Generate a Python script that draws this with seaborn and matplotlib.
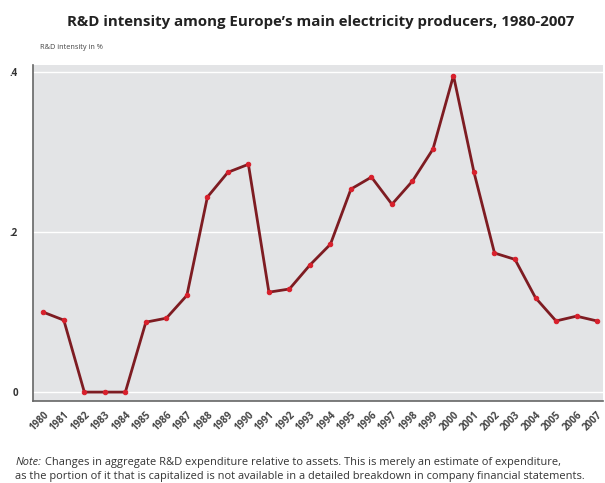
import matplotlib
matplotlib.use('Agg')
import pandas as pd
import seaborn as sns
import matplotlib.pyplot as plt

years = list(range(1980, 2008))
intensity = [0.100, 0.090, 0.0, 0.0, 0.0, 0.0875, 0.0925, 0.121, 0.244, 0.275,
             0.285, 0.125, 0.129, 0.159, 0.185, 0.254, 0.269, 0.235, 0.264, 0.304,
             0.396, 0.275, 0.174, 0.166, 0.118, 0.089, 0.095, 0.089]
yticks = [0, 0.2, 0.4]
ytick_labels = ['0', '.2', '.4']

df = pd.DataFrame({'year': years, 'intensity': intensity})

sns.set_style('white')
plt.rcParams['font.family'] = ['Open Sans', 'DejaVu Sans']

fig = plt.figure(figsize=(6.05, 4.83), dpi=100)
ax = fig.add_axes([0.055, 0.170, 0.942, 0.695])
ax.set_facecolor('#e3e4e6')

sns.lineplot(data=df, x='year', y='intensity', ax=ax, color='#7e1c22', linewidth=2.0,
             marker='o', markersize=3.2, markerfacecolor='#d8202c', markeredgecolor='#d8202c',
             zorder=3)

ax.set_xlim(1980 - 0.49, 2007 + 0.3)
ax.set_ylim(-0.011, 0.409)
ax.set_yticks(yticks)
ax.set_yticklabels(ytick_labels, fontsize=7, fontweight='bold', color='#333333')
ax.set_xticks(years)
ax.set_xticklabels([str(y) for y in years], rotation=45, ha='right', rotation_mode='anchor',
                   fontsize=7, fontweight='bold', color='#444444')
ax.grid(axis='y', color='white', linewidth=1.0, zorder=0)
ax.tick_params(axis='both', direction='out', length=3, width=0.7, color='#999999', pad=3)
ax.tick_params(axis='y', pad=8)
ax.set_xlabel('')
ax.set_ylabel('')

for side in ['top', 'right']:
    ax.spines[side].set_visible(False)
ax.spines['left'].set_color('#666666')
ax.spines['bottom'].set_color('#666666')
ax.spines['left'].set_linewidth(1.2)
ax.spines['bottom'].set_linewidth(1.2)

fig.text(0.53, 0.955, 'R&D intensity among Europe\u2019s main electricity producers, 1980-2007',
         ha='center', va='center', fontsize=10.8, fontweight='bold', color='#222222')
fig.text(0.066, 0.902, 'R&D intensity in %', ha='left', va='center', fontsize=5.3, color='#444444')

note_size = 7.9
note = fig.text(0.025, 0.042, 'Note:', ha='left', va='center', fontsize=note_size,
                style='italic', color='#333333')
fig.canvas.draw()
bb = note.get_window_extent().transformed(fig.transFigure.inverted())
fig.text(bb.x1 + 0.006, 0.042,
         'Changes in aggregate R&D expenditure relative to assets. This is merely an estimate of expenditure,',
         ha='left', va='center', fontsize=note_size, color='#333333')
fig.text(0.025, 0.013,
         'as the portion of it that is capitalized is not available in a detailed breakdown in company financial statements.',
         ha='left', va='center', fontsize=note_size, color='#333333')

fig.savefig('out.png', dpi=100)
